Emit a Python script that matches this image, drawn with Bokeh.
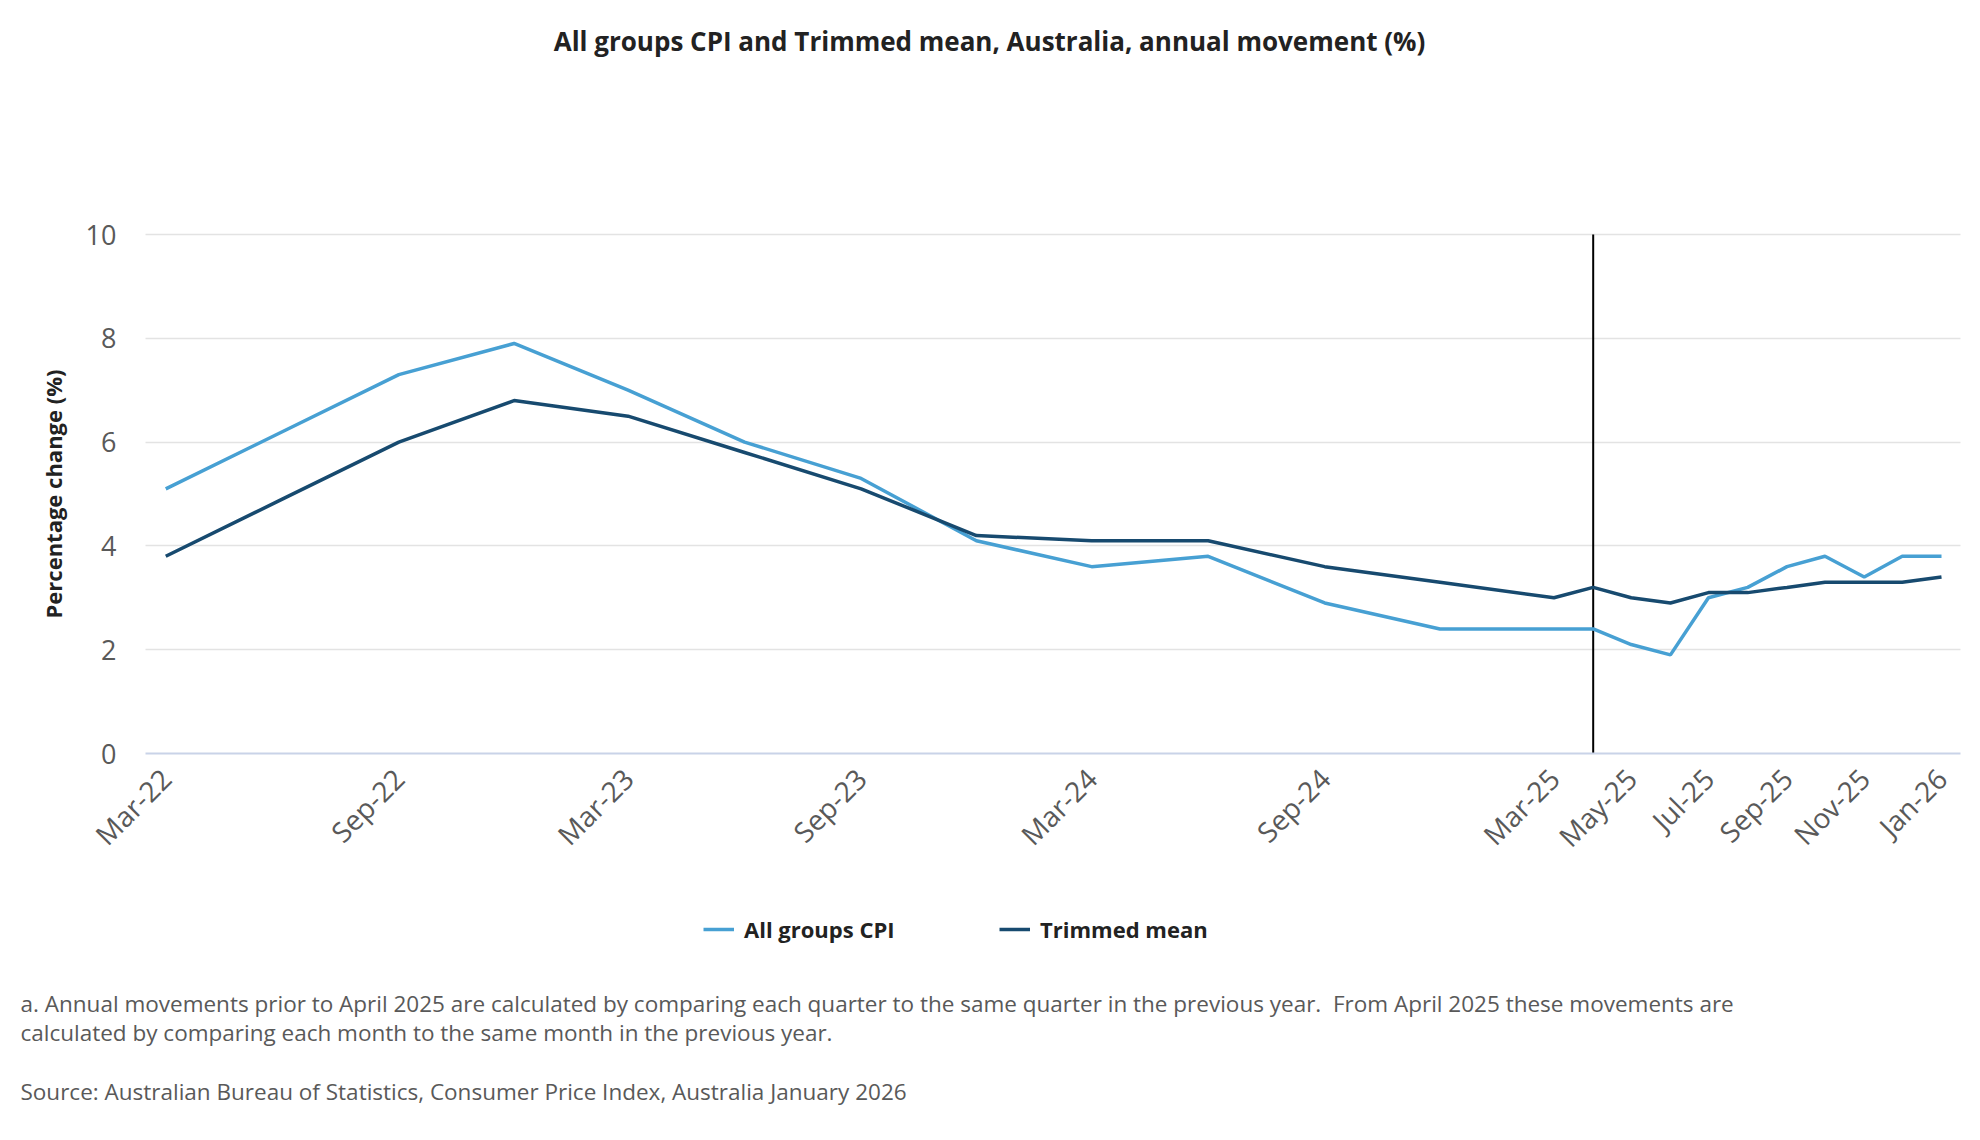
import math
import pandas as pd
from bokeh.plotting import figure
from bokeh.models import (Range1d, FixedTicker, DatetimeTickFormatter, Label,
                          Legend, LegendItem, ColumnDataSource)
from bokeh.embed import file_html
from bokeh.resources import INLINE

# ---------------- data ----------------
periods = ["Mar-22", "Jun-22", "Sep-22", "Dec-22", "Mar-23", "Jun-23", "Sep-23", "Dec-23",
           "Mar-24", "Jun-24", "Sep-24", "Dec-24", "Mar-25", "Apr-25", "May-25", "Jun-25",
           "Jul-25", "Aug-25", "Sep-25", "Oct-25", "Nov-25", "Dec-25", "Jan-26"]
cpi = [5.1, 6.2, 7.3, 7.9, 7.0, 6.0, 5.3, 4.1, 3.6, 3.8, 2.9, 2.4, 2.4,
       2.4, 2.1, 1.9, 3.0, 3.2, 3.6, 3.8, 3.4, 3.8, 3.8]
trimmed = [3.8, 4.9, 6.0, 6.8, 6.5, 5.8, 5.1, 4.2, 4.1, 4.1, 3.6, 3.3, 3.0,
           3.2, 3.0, 2.9, 3.1, 3.1, 3.2, 3.3, 3.3, 3.3, 3.4]
tick_labels = ["Mar-22", "Sep-22", "Mar-23", "Sep-23", "Mar-24", "Sep-24", "Mar-25",
               "May-25", "Jul-25", "Sep-25", "Nov-25", "Jan-26"]
y_ticks = [0, 2, 4, 6, 8, 10]
break_period = "Apr-25"
series_names = ["All groups CPI", "Trimmed mean"]

title_text = "All groups CPI and Trimmed mean, Australia, annual movement (%)"
y_label = "Percentage change (%)"
note_1 = ("a. Annual movements prior to April 2025 are calculated by comparing each quarter to the "
          "same quarter in the previous year.\u00a0 From April 2025 these movements are")
note_2 = "calculated by comparing each month to the same month in the previous year."
source_text = "Source: Australian Bureau of Statistics, Consumer Price Index, Australia January 2026"

# ---------------- styling / geometry ----------------
FONT = "Open Sans"
CPI_COLOR = "#47a0d3"
TM_COLOR = "#174a6f"
TEXT_GREY = "#595959"
DARK = "#222222"

W, H = 1964, 1124
PLOT_L, PLOT_R = 145, 1960        # pixel extent of plotting area (x)
PLOT_T, PLOT_B = 234, 753         # pixel extent of plotting area (y: top value / zero)

def to_date(s):
    return pd.to_datetime(s, format="%b-%y")

def ms(d):
    return d.value / 1e6

dates = [to_date(s) for s in periods]
src = ColumnDataSource(dict(date=dates, cpi=cpi, trimmed=trimmed))

# data extent of the plotting area (half a month padding either side)
x_a = ms(dates[0] - pd.Timedelta(days=16))
x_b = ms(dates[-1] + pd.Timedelta(days=15))
px_x = (x_b - x_a) / (PLOT_R - PLOT_L)
y_lo, y_hi = y_ticks[0], y_ticks[-1]
px_y = (y_hi - y_lo) / (PLOT_B - PLOT_T)

p = figure(width=W, height=H, x_axis_type="datetime",
           x_range=Range1d(x_a - PLOT_L * px_x, x_b + (W - PLOT_R) * px_x),
           y_range=Range1d(y_lo - (H - PLOT_B) * px_y, y_hi + PLOT_T * px_y),
           output_backend="svg", toolbar_location=None, min_border=0)
p.outline_line_color = None
p.background_fill_color = "white"
p.border_fill_color = "white"

# grid
p.xgrid.grid_line_color = None
p.ygrid.ticker = FixedTicker(ticks=y_ticks[1:])
p.ygrid.bounds = (y_lo, y_hi)
p.ygrid.cross_bounds = (x_a, x_b)
p.ygrid.grid_line_color = "#e3e3e3"
p.ygrid.grid_line_width = 1.5

# y axis (pinned at left edge of plotting area)
p.yaxis.fixed_location = x_a
p.yaxis.bounds = (y_lo, y_hi)
p.yaxis.ticker = FixedTicker(ticks=y_ticks)
p.yaxis.axis_line_color = None
p.yaxis.major_tick_line_color = None
p.yaxis.minor_tick_line_color = None
p.yaxis.major_label_text_font = FONT
p.yaxis.major_label_text_font_size = "27px"
p.yaxis.major_label_text_color = TEXT_GREY
p.yaxis.major_label_standoff = 23
p.yaxis.axis_label = y_label
p.yaxis.axis_label_text_font = FONT
p.yaxis.axis_label_text_font_size = "22px"
p.yaxis.axis_label_text_font_style = "bold"
p.yaxis.axis_label_text_color = DARK
p.yaxis.axis_label_standoff = 15

# x axis (pinned at zero)
tick_dates = [to_date(s) for s in tick_labels]
p.xaxis.fixed_location = y_lo
p.xaxis.bounds = (x_a, x_b)
p.xaxis.ticker = FixedTicker(ticks=[ms(d) for d in tick_dates])
p.xaxis.formatter = DatetimeTickFormatter(days="%b-%y", months="%b-%y", years="%b-%y",
                                          hours="%b-%y", minutes="%b-%y")
p.xaxis.major_label_orientation = math.pi / 4
p.xaxis.axis_line_color = "#c9d3e8"
p.xaxis.axis_line_width = 2
p.xaxis.major_tick_line_color = None
p.xaxis.minor_tick_line_color = None
p.xaxis.major_label_text_font = FONT
p.xaxis.major_label_text_font_size = "28px"
p.xaxis.major_label_text_color = TEXT_GREY
p.xaxis.major_label_standoff = 14

# vertical break line at the switch to monthly data
bd = to_date(break_period)
p.segment(x0=[bd], y0=[y_lo], x1=[bd], y1=[y_hi], line_color="black", line_width=2)

# series
r_cpi = p.line("date", "cpi", source=src, line_color=CPI_COLOR, line_width=3.5)
r_tm = p.line("date", "trimmed", source=src, line_color=TM_COLOR, line_width=3.5)

# legends below the plot
LEG_Y = 932
for name, rend, xpos in [(series_names[0], r_cpi, 703), (series_names[1], r_tm, 999)]:
    lg = Legend(items=[LegendItem(label=name, renderers=[rend])],
                location=(xpos, H - LEG_Y - 12), orientation="horizontal",
                padding=0, margin=0, border_line_color=None, background_fill_alpha=0,
                glyph_width=31, glyph_height=24, label_height=24, label_standoff=10,
                label_text_font=FONT, label_text_font_size="22px",
                label_text_font_style="bold", label_text_color=DARK,
                label_text_baseline="middle")
    p.add_layout(lg, "center")

# title and notes
p.add_layout(Label(x=989, y=H - 40, x_units="screen", y_units="screen", text=title_text,
                   text_align="center", text_baseline="middle", text_font=FONT,
                   text_font_size="26px", text_font_style="bold", text_color=DARK))
for txt, yy in [(note_1, 1003), (note_2, 1032), (source_text, 1091)]:
    p.add_layout(Label(x=20, y=H - yy, x_units="screen", y_units="screen", text=txt,
                       text_align="left", text_baseline="middle", text_font=FONT,
                       text_font_size="22.5px", text_color=TEXT_GREY))

open("out.html", "w").write(file_html(p, INLINE))
